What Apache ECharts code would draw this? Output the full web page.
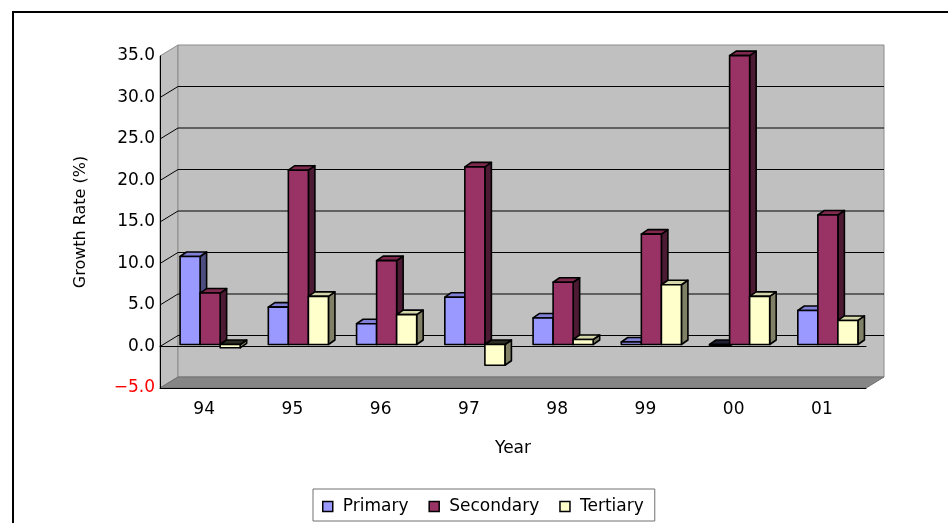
<!DOCTYPE html>
<html>
<head>
<meta charset="utf-8">
<script src="https://cdn.jsdelivr.net/npm/echarts@6/dist/echarts.min.js"></script>
<style>
  html, body { margin: 0; padding: 0; background: #fff; }
  #chart { width: 948px; height: 523px; }
</style>
</head>
<body>
<div id="chart"></div>
<script>
// Annual growth rate by industry sector (%)
const years = ['94', '95', '96', '97', '98', '99', '00', '01'];
const primary = [10.6, 4.5, 2.5, 5.7, 3.2, 0.3, -0.2, 4.1];
const secondary = [6.2, 21.0, 10.1, 21.4, 7.5, 13.3, 34.8, 15.6];
const tertiary = [-0.4, 5.8, 3.6, -2.5, 0.6, 7.2, 5.8, 2.9];
const valueTicks = [-5, 0, 5, 10, 15, 20, 25, 30, 35];
const seriesNames = ['Primary', 'Secondary', 'Tertiary'];

const FONT = 'DejaVu Sans';

// Oblique projection used for the pseudo-3D walls and columns
const WALL_DX = 18, WALL_DY = -11;
const BAR_DX = 6, BAR_DY = -2;
const BAR_DEPTH_DX = 6.5, BAR_DEPTH_DY = -4.5;
const BAR_RATIO = 0.227;

const palette = [
  { front: '#9999FF', top: '#8080D6', side: '#4D4D80', dark: '#1F1F33' },
  { front: '#993366', top: '#80294F', side: '#4D1A33', dark: '#1F0A14' },
  { front: '#FFFFCC', top: '#D6D6AB', side: '#808066', dark: '#2E2E24' }
];

function renderBackdrop(params, api) {
  const cs = params.coordSys;
  const x0 = cs.x, x1 = cs.x + cs.width;
  const yOf = v => api.coord([0, v])[1];
  const vMin = valueTicks[0], vMax = valueTicks[valueTicks.length - 1];
  const yTop = yOf(vMax), yBot = yOf(vMin);
  const children = [];
  // left side wall
  children.push({
    type: 'polygon',
    shape: { points: [[x0, yTop], [x0 + WALL_DX, yTop + WALL_DY], [x0 + WALL_DX, yBot + WALL_DY], [x0, yBot]] },
    style: { fill: '#C0C0C0', stroke: '#8C8C8C', lineWidth: 1 }
  });
  // back wall
  children.push({
    type: 'rect',
    shape: { x: x0 + WALL_DX, y: yTop + WALL_DY, width: x1 - x0, height: yBot - yTop },
    style: { fill: '#C0C0C0', stroke: '#8C8C8C', lineWidth: 1 }
  });
  // floor
  children.push({
    type: 'polygon',
    shape: { points: [[x0, yBot], [x1, yBot], [x1 + WALL_DX, yBot + WALL_DY], [x0 + WALL_DX, yBot + WALL_DY]] },
    style: { fill: '#868686', stroke: '#707070', lineWidth: 1 }
  });
  // gridlines: diagonal on the side wall, horizontal on the back wall
  valueTicks.forEach(v => {
    if (v === vMin || v === vMax) return;
    const y = yOf(v);
    children.push({
      type: 'polyline',
      shape: { points: [[x0, y], [x0 + WALL_DX, y + WALL_DY], [x1 + WALL_DX, y + WALL_DY]] },
      style: { stroke: '#000', lineWidth: 1, fill: null }
    });
  });
  return { type: 'group', children };
}

function makeColumnRenderer(k) {
  return function (params, api) {
    const idx = api.value(0);
    const v = api.value(1);
    const base = api.coord([idx, 0]);
    const tip = api.coord([idx, v]);
    const catW = api.size([1, 0])[0];
    const w = catW * BAR_RATIO;
    const left = base[0] + BAR_DX - 1.5 * w + k * w;
    const y0 = base[1] + BAR_DY, y1 = tip[1] + BAR_DY;
    const yHi = Math.min(y0, y1), yLo = Math.max(y0, y1);
    const c = palette[k];
    const dx = BAR_DEPTH_DX, dy = BAR_DEPTH_DY;
    const edge = { stroke: '#000', lineWidth: 1.6, lineJoin: 'round' };
    return {
      type: 'group',
      children: [
        {
          type: 'polygon',
          shape: { points: [[left + w, yHi], [left + w + dx, yHi + dy], [left + w + dx, yLo + dy], [left + w, yLo]] },
          style: Object.assign({ fill: c.side }, edge)
        },
        {
          type: 'polygon',
          shape: { points: [[left, yHi], [left + w, yHi], [left + w + dx, yHi + dy], [left + dx, yHi + dy]] },
          style: Object.assign({ fill: v < 0 ? c.dark : c.top }, edge)
        },
        {
          type: 'rect',
          shape: { x: left, y: yHi, width: w, height: yLo - yHi },
          style: Object.assign({ fill: c.front }, edge)
        }
      ]
    };
  };
}

const seriesValues = [primary, secondary, tertiary];

const chart = echarts.init(document.getElementById('chart'), null, { renderer: 'canvas' });

const option = {
  animation: false,
  backgroundColor: '#fff',
  textStyle: { fontFamily: FONT },
  graphic: [
    {
      type: 'rect',
      shape: { x: 13, y: 12, width: 1000, height: 1000 },
      style: { fill: null, stroke: '#000', lineWidth: 2 },
      silent: true
    }
  ],
  grid: { left: 160, right: 82, top: 56, bottom: 135 },
  legend: {
    left: 313,
    top: 489,
    data: seriesNames.map((n, k) => ({
      name: n,
      icon: 'rect',
      itemStyle: { color: palette[k].front, borderColor: '#000', borderWidth: 1.5 }
    })),
    itemWidth: 10,
    itemHeight: 10,
    itemGap: 20,
    padding: [9, 11, 6, 9],
    borderColor: '#707070',
    borderWidth: 1,
    textStyle: { fontFamily: FONT, fontSize: 17, color: '#000', padding: [0, 0, 0, 5] }
  },
  xAxis: [
    {
      type: 'category',
      data: years,
      position: 'bottom',
      z: 3,
      axisLine: { onZero: false, lineStyle: { color: '#000', width: 1 } },
      axisTick: { inside: true, length: 6, lineStyle: { color: '#000' } },
      axisLabel: { color: '#000', fontSize: 17, fontFamily: FONT, margin: 13 },
      name: 'Year',
      nameLocation: 'middle',
      nameGap: 52,
      nameTextStyle: { color: '#000', fontSize: 17, fontFamily: FONT }
    },
    {
      type: 'category',
      data: years,
      position: 'bottom',
      z: 3,
      axisLine: { onZero: true, lineStyle: { color: '#000', width: 1 } },
      axisTick: { inside: true, length: 5, lineStyle: { color: '#000' } },
      axisLabel: { show: false }
    }
  ],
  yAxis: {
    type: 'value',
    min: valueTicks[0],
    max: valueTicks[valueTicks.length - 1],
    interval: 5,
    z: 3,
    axisLine: { show: true, lineStyle: { color: '#000', width: 1 } },
    axisTick: { show: false },
    splitLine: { show: false },
    axisLabel: {
      fontSize: 17,
      fontFamily: FONT,
      margin: 5,
      color: val => (parseFloat(val) < 0 ? '#FF0000' : '#000'),
      formatter: v => (v < 0 ? '\u2212' + Math.abs(v).toFixed(1) : v.toFixed(1))
    },
    name: 'Growth Rate (%)',
    nameLocation: 'middle',
    nameRotate: 90,
    nameGap: 71,
    nameTextStyle: { color: '#000', fontSize: 16, fontFamily: FONT }
  },
  series: [
    {
      type: 'custom',
      name: 'walls',
      z: 1,
      silent: true,
      xAxisIndex: 0,
      renderItem: renderBackdrop,
      data: [[0, 0]],
      encode: { x: 0, y: 1 }
    }
  ].concat(seriesNames.map((n, k) => ({
    type: 'custom',
    name: n,
    z: 5,
    xAxisIndex: 0,
    itemStyle: { color: palette[k].front },
    renderItem: makeColumnRenderer(k),
    data: years.map((_, i) => [i, seriesValues[k][i]]),
    encode: { x: 0, y: 1 }
  })))
};

chart.setOption(option);
</script>
</body>
</html>
